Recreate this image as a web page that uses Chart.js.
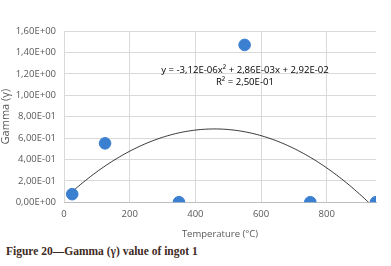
<!DOCTYPE html>
<html>
<head>
<meta charset="utf-8">
<script src="https://cdn.jsdelivr.net/npm/chart.js@4"></script>
<style>
  html, body { margin:0; padding:0; background:#fff; }
  #wrap { position:relative; width:391px; height:266px; }
  #caption { position:absolute; left:6px; top:245px; font-family:"Liberation Serif", serif; font-weight:bold; font-size:11.5px; color:#3f2a1e; white-space:nowrap; }
</style>
</head>
<body>
<div id="wrap">
  <canvas id="c" width="391" height="244" style="position:absolute;left:0;top:0;width:391px;height:244px"></canvas>
  <div id="caption">Figure 20—Gamma (γ) value of ingot 1</div>
</div>
<script>
const temperatures = [25, 125, 350, 550, 750, 950];
const gammaValues = [0.075, 0.55, 0.0, 1.47, 0.0, 0.0];
const trendCoefficients = [-3.12e-6, 2.86e-3, 2.92e-2]; // from the chart's equation label
const equationLabel = "y = -3,12E-06x² + 2,86E-03x + 2,92E-02";
const r2Label = "R² = 2,50E-01";
const xTicks = [0, 200, 400, 600, 800];
const yTicks = [0, 0.2, 0.4, 0.6, 0.8, 1.0, 1.2, 1.4, 1.6];

const trend = [];
for (let x = temperatures[0]; x <= temperatures[temperatures.length-1]; x += 5) {
  trend.push({x, y: trendCoefficients[0]*x*x + trendCoefficients[1]*x + trendCoefficients[2]});
}
const fmtY = v => {
  if (Math.abs(v) < 1e-9) return "0,00E+00";
  let e = Math.floor(Math.log10(Math.abs(v)) + 1e-9);
  let m = v / Math.pow(10, e);
  const sign = e < 0 ? "-" : "+";
  return m.toFixed(2).replace(".", ",") + "E" + sign + String(Math.abs(e)).padStart(2, "0");
};
const gray = "#595959";
const fam = "'Open Sans', 'Liberation Sans', sans-serif";
const font = {family: fam, size: 9.5};

const labelPlugin = {
  id: "eq",
  afterDatasetsDraw(chart) {
    const {ctx, chartArea} = chart;
    const cx = chartArea.left + (chartArea.right - chartArea.left) * 0.58;
    ctx.save();
    ctx.fillStyle = "#000";
    ctx.font = "9.6px " + fam;
    ctx.textAlign = "center";
    ctx.textBaseline = "middle";
    ctx.fillText(equationLabel, cx, chartArea.top + 39);
    ctx.fillText(r2Label, cx, chartArea.top + 51);
    ctx.restore();
  }
};

new Chart(document.getElementById("c"), {
  type: "scatter",
  data: {
    datasets: [
      {
        type: "line",
        data: trend,
        borderColor: "#000",
        borderWidth: 0.8,
        pointRadius: 0,
        fill: false,
        tension: 0,
        order: 2
      },
      {
        data: temperatures.map((t, i) => ({x: t, y: gammaValues[i]})),
        backgroundColor: "#3b7fd0",
        borderColor: "#3b7fd0",
        pointRadius: 5.8,
        pointHoverRadius: 5.8,
        order: 1
      }
    ]
  },
  options: {
    responsive: false,
    animation: false,
    plugins: { legend: {display: false}, tooltip: {enabled: false} },
    layout: { padding: {left: 0, right: 15, top: 31, bottom: 0} },
    scales: {
      x: {
        type: "linear",
        min: 0, max: 950,
        afterBuildTicks: ax => { ax.ticks = xTicks.map(v => ({value: v})); },
        grid: { color: "#d9d9d9", drawTicks: false },
        border: { display: true, color: "#bfbfbf" },
        ticks: { color: gray, font, padding: 6 },
        title: { display: true, text: "Temperature (°C)", color: gray, font: {family: fam, size: 9.5}, padding: {top: 3} }
      },
      y: {
        min: 0, max: 1.6,
        afterBuildTicks: ax => { ax.ticks = yTicks.map(v => ({value: v})); },
        afterFit: ax => { ax.width = 64; },
        grid: { color: "#d9d9d9", drawTicks: false },
        border: { display: false },
        ticks: { color: gray, font, padding: 8, callback: v => fmtY(v) },
        title: { display: true, text: "Gamma (γ)", color: gray, font: {family: fam, size: 11}, padding: {top: -1, bottom: 0} }
      }
    }
  },
  plugins: [labelPlugin]
});
</script>
</body>
</html>
